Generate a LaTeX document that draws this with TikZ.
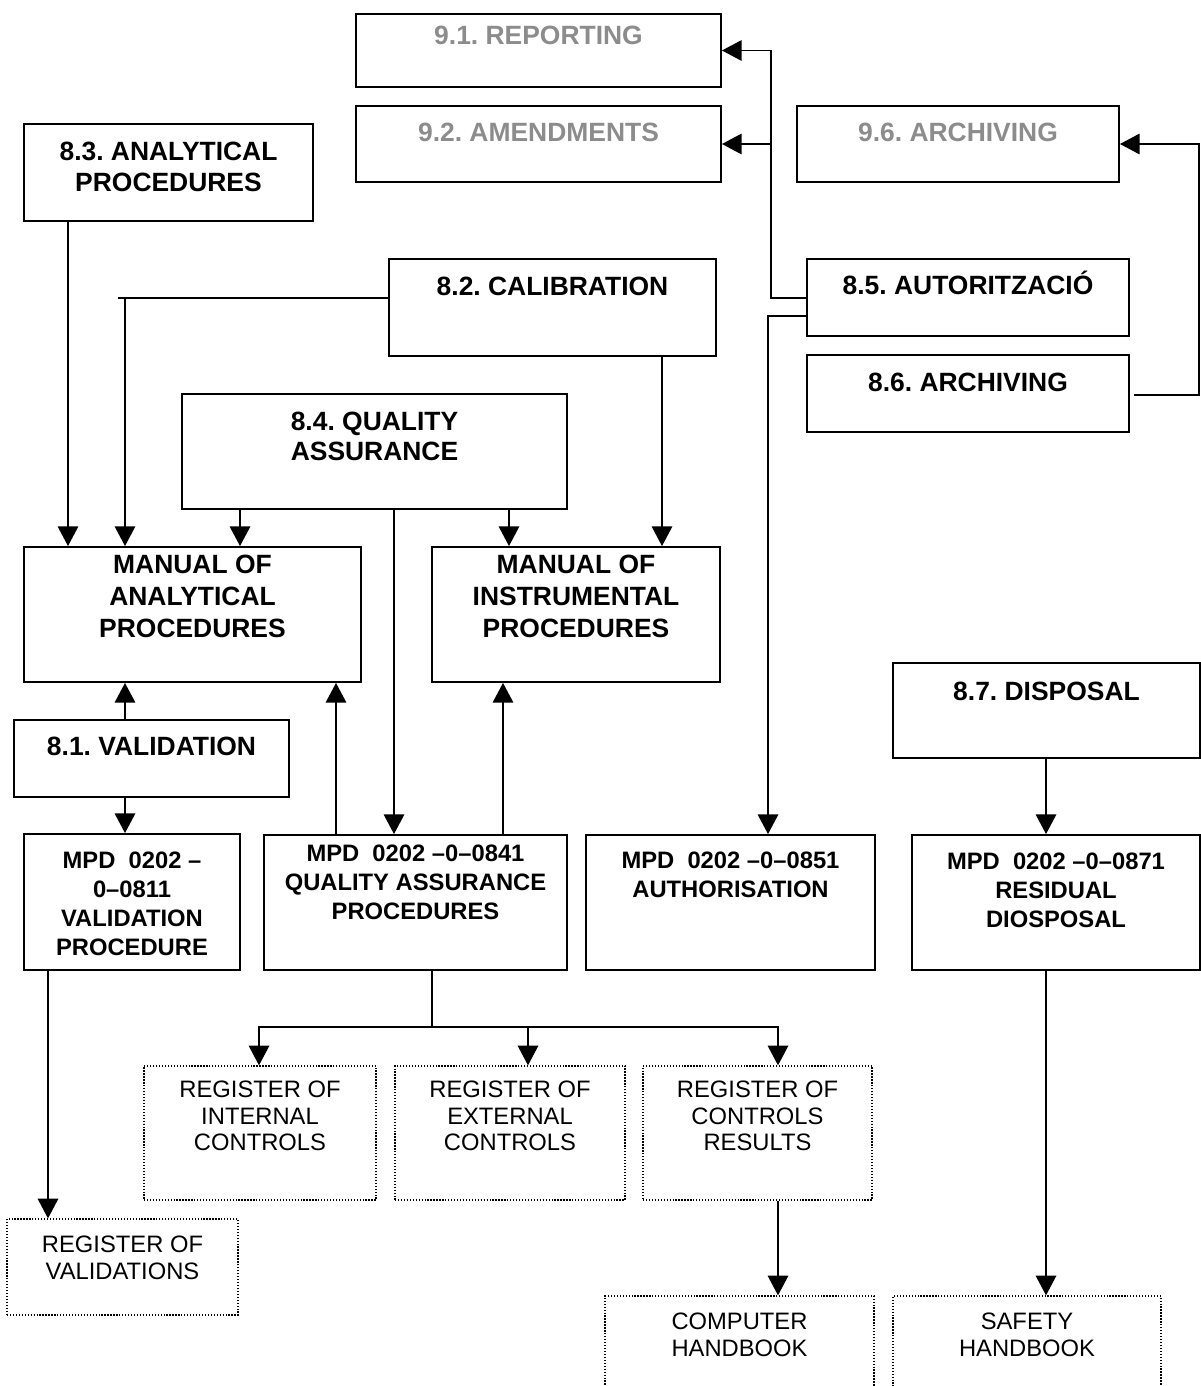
\documentclass[tikz,border=0pt]{standalone}
\usepackage{fontspec}
\setmainfont{Liberation Sans}
\usetikzlibrary{arrows.meta,positioning,fit}
\definecolor{later}{HTML}{8C8C8C}
\frenchspacing

\begin{document}
\begin{tikzpicture}[x=0.025cm, y=-0.025cm, line width=1.3pt,
  box/.style={draw, rectangle, inner sep=0pt},
  record/.style={draw, rectangle, inner sep=0pt, line width=0.9pt, dash pattern=on 0.9pt off 1.2pt},
  txt/.style={align=center, inner sep=0pt, font=\fontsize{16.9}{20.5}\selectfont\bfseries},
  head/.style={txt, font=\fontsize{18.8}{21.8}\selectfont\bfseries},
  bigtxt/.style={txt, font=\fontsize{18.8}{22.8}\selectfont\bfseries},
  regtxt/.style={txt, font=\fontsize{16.9}{18.8}\selectfont},
  arr/.style={-{Triangle[length=14pt,width=14.5pt]}}]
  \useasboundingbox (0,0) rectangle (1201,1386);

  % chapter 9
  \node[box, fit={(356,14) (721,87)}] (rep) {};
  \node[box, fit={(356,106) (721,182)}] (amd) {};
  \node[box, fit={(797,106) (1119,182)}] (arc96) {};
  \node[head, text=later, below=0.3cm of rep.north] (rep-t) {9.1. REPORTING};
  \node[head, text=later, below=0.42cm of amd.north] (amd-t) {9.2. AMENDMENTS};
  \node[head, text=later, below=0.42cm of arc96.north] (arc96-t) {9.6. ARCHIVING};

  % chapter 8
  \node[box, fit={(24,124) (313,221)}] (a83) {};
  \node[box, fit={(389,259) (716,356)}] (cal) {};
  \node[box, fit={(807,259) (1129,336)}] (aut) {};
  \node[box, fit={(807,355) (1129,432)}] (arc86) {};
  \node[box, fit={(182,394) (567,509)}] (qa) {};
  \node[box, fit={(14,720) (289,797)}] (val) {};
  \node[box, fit={(893,663) (1200,758)}] (dis) {};
  \node[head, below=0.46cm of a83.north] (a83-t) {8.3. ANALYTICAL\\PROCEDURES};
  \node[head, below=0.44cm of cal.north] (cal-t) {8.2. CALIBRATION};
  \node[head, below=0.3cm of aut.north] (aut-t) {8.5. AUTORITZACIÓ};
  \node[head, below=0.44cm of arc86.north] (arc86-t) {8.6. ARCHIVING};
  \node[head, below=0.44cm of qa.north] (qa-t) {8.4. QUALITY\\ASSURANCE};
  \node[head, below=0.42cm of val.north] (val-t) {8.1. VALIDATION};
  \node[head, below=0.48cm of dis.north] (dis-t) {8.7. DISPOSAL};

  % manuals
  \node[box, fit={(24,547) (361,682)}] (man) {};
  \node[box, fit={(432,547) (720,682)}] (mi) {};
  \node[bigtxt, below=0.2cm of man.north] (man-t) {MANUAL OF\\ANALYTICAL\\PROCEDURES};
  \node[bigtxt, below=0.2cm of mi.north] (mi-t) {MANUAL OF\\INSTRUMENTAL\\PROCEDURES};

  % procedures
  \node[box, fit={(24,834) (240,970)}] (m811) {};
  \node[box, fit={(264,835) (567,970)}] (m841) {};
  \node[box, fit={(586,835) (875,970)}] (m851) {};
  \node[box, fit={(912,835) (1200,970)}] (m871) {};
  \node[txt, below=0.45cm of m811.north] (m811-t) {MPD~ 0202 –\\0–0811\\VALIDATION\\PROCEDURE};
  \node[txt, below=0.25cm of m841.north] (m841-t) {MPD~ 0202 –0–0841\\QUALITY ASSURANCE\\PROCEDURES};
  \node[txt, below=0.425cm of m851.north] (m851-t) {MPD~ 0202 –0–0851\\AUTHORISATION};
  \node[txt, below=0.45cm of m871.north] (m871-t) {MPD~ 0202 –0–0871\\RESIDUAL\\DIOSPOSAL};

  % registers and handbooks
  \node[record, fit={(144,1066) (376,1200)}] (ri) {};
  \node[record, fit={(395,1066) (625,1200)}] (re) {};
  \node[record, fit={(643,1066) (872,1200)}] (rc) {};
  \node[record, fit={(7,1219) (238,1315)}] (rv) {};
  \node[record, fit={(605,1296) (874,1400)}] (ch) {};
  \node[record, fit={(893,1296) (1161,1400)}] (sh) {};
  \node[regtxt, below=0.375cm of ri.north] (ri-t) {REGISTER OF\\INTERNAL\\CONTROLS};
  \node[regtxt, below=0.375cm of re.north] (re-t) {REGISTER OF\\EXTERNAL\\CONTROLS};
  \node[regtxt, below=0.375cm of rc.north] (rc-t) {REGISTER OF\\CONTROLS\\RESULTS};
  \node[regtxt, below=0.425cm of rv.north] (rv-t) {REGISTER OF\\VALIDATIONS};
  \node[regtxt, below=0.425cm of ch.north] (ch-t) {COMPUTER\\HANDBOOK};
  \node[regtxt, below=0.425cm of sh.north] (sh-t) {SAFETY\\HANDBOOK};

  % links
  \coordinate (tap) at (771,298);
  \coordinate (bus) at (432,1027);
  \draw[arr] (a83.south -| 68,0) -- (man.north -| 68,0);
  \draw[arr] (cal.west |- 0,298) -| (man.north -| 125,0);
  \draw (125,298) -- (118,298);
  \draw[arr] (cal.south -| 662,0) -- (mi.north -| 662,0);
  \draw[arr] (qa.south -| 240,0) -- (man.north -| 240,0);
  \draw[arr] (qa.south -| 509,0) -- (mi.north -| 509,0);
  \draw[arr] (qa.south -| 394,0) -- (m841.north -| 394,0);
  \draw[arr] (val.north -| 125,0) -- (man.south -| 125,0);
  \draw[arr] (val.south -| 125,0) -- (m811.north -| 125,0);
  \draw[arr] (m841.north -| 336,0) -- (man.south -| 336,0);
  \draw[arr] (m841.north -| 503,0) -- (mi.south -| 503,0);
  \draw[arr] (aut.west |- tap) -- (tap) |- (rep.east);
  \draw[arr] (tap |- amd.east) -- (amd.east);
  \draw[arr] (aut.west |- 0,316) -| (m851.north -| 768,0);
  \draw[arr] ([xshift=3pt]arc86.east |- 0,395) -| (1199,144) -- (arc96.east);
  \draw[arr] (dis.south -| 1046,0) -- (m871.north -| 1046,0);
  \draw[arr] (m871.south -| 1046,0) -- (sh.north -| 1046,0);
  \draw (m841.south -| bus) -- (bus);
  \draw[arr] (bus) -| (ri.north -| 259,0);
  \draw[arr] (bus) -| (re.north -| 528,0);
  \draw[arr] (bus) -| (rc.north -| 778,0);
  \draw[arr] (m811.south -| 48,0) -- (rv.north -| 48,0);
  \draw[arr] (rc.south -| 778,0) -- (ch.north -| 778,0);
\end{tikzpicture}
\end{document}
